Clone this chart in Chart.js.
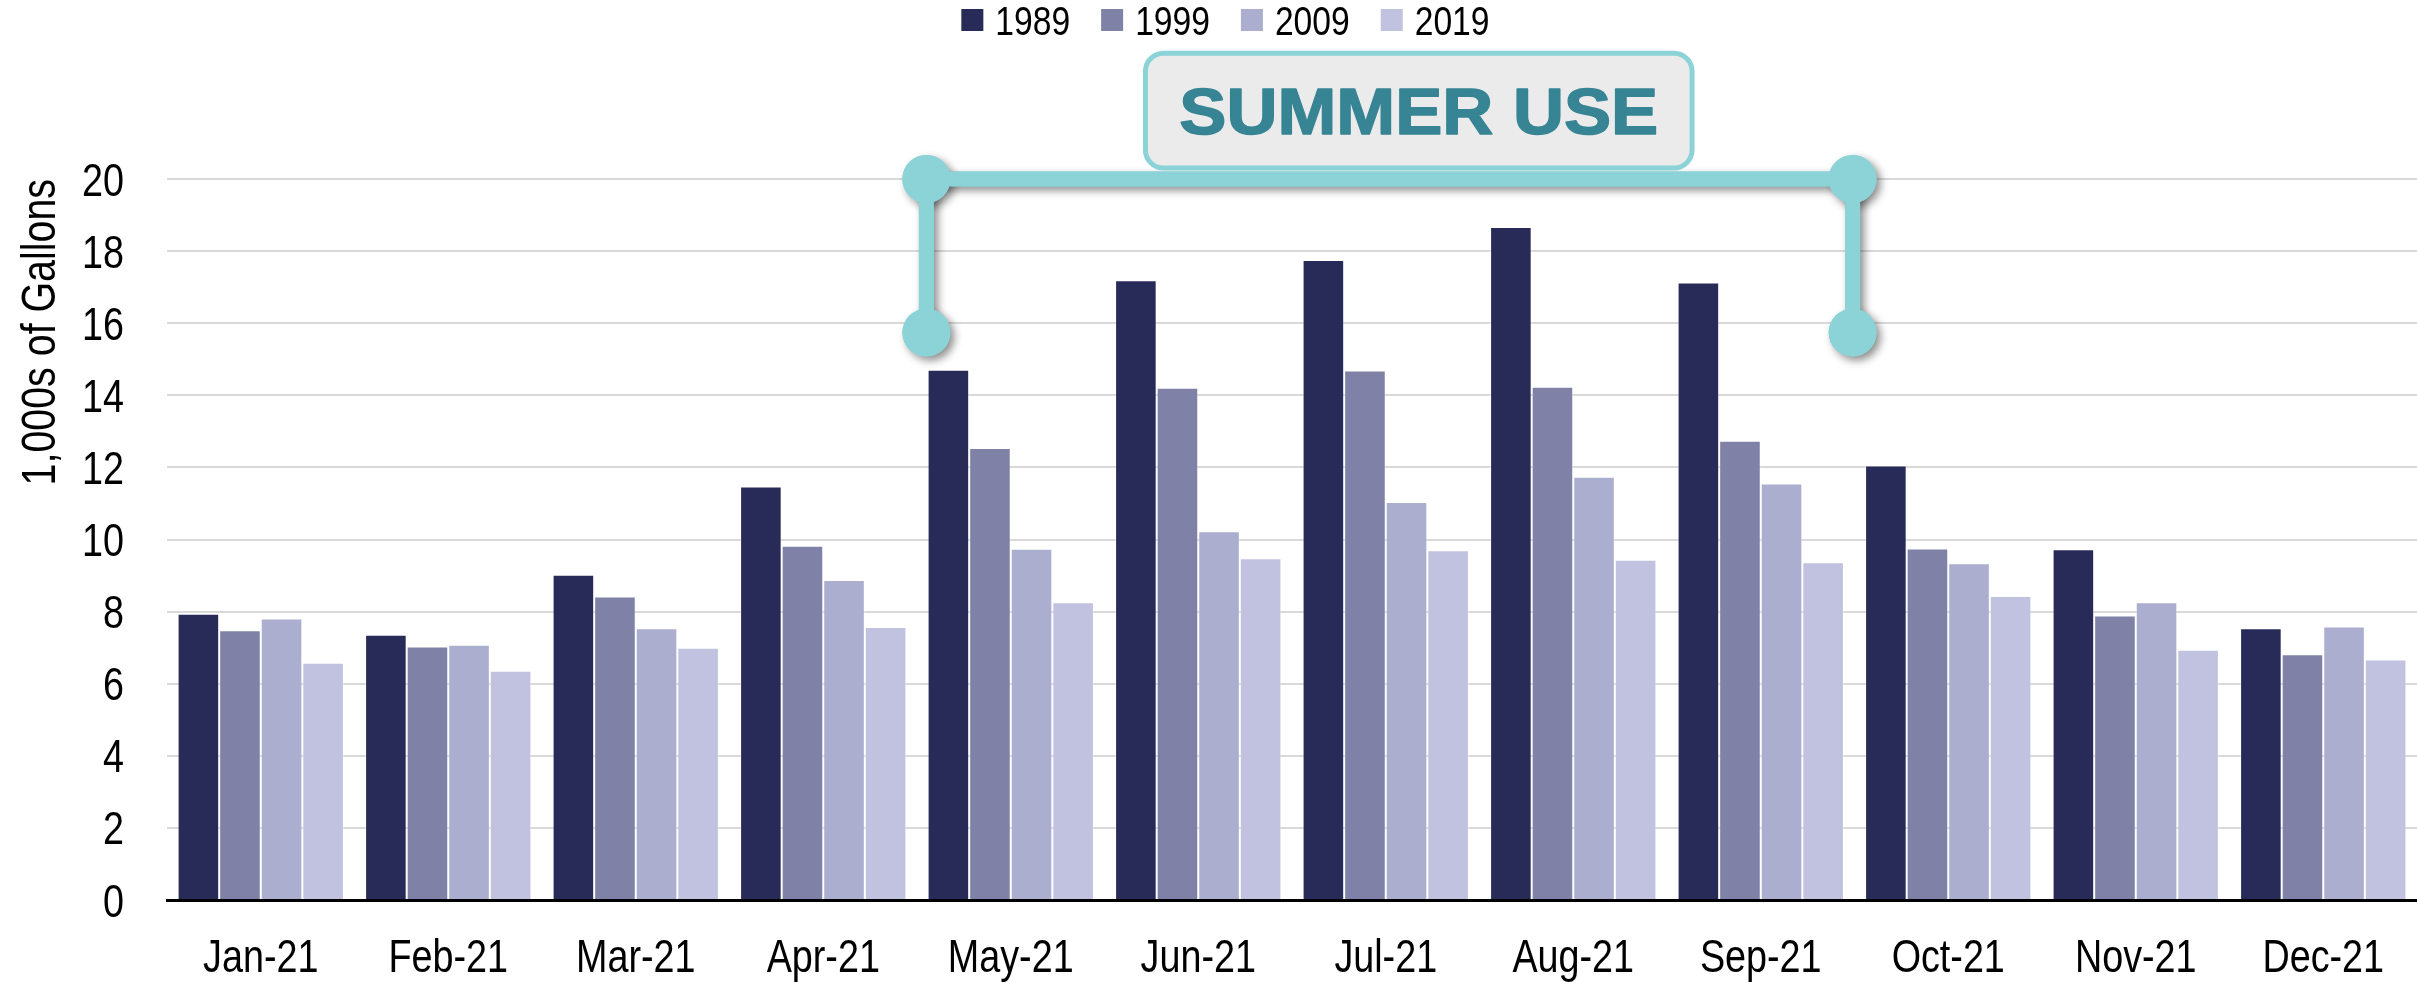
<!DOCTYPE html>
<html>
<head>
<meta charset="utf-8">
<title>Monthly Water Use</title>
<script src="https://cdn.jsdelivr.net/npm/chart.js@4.4.1/dist/chart.umd.min.js"></script>
<style>
  html, body { margin: 0; padding: 0; background: #ffffff; }
  #wrap { width: 2417px; height: 982px; }
</style>
</head>
<body>
<div id="wrap"><canvas id="chart" width="2417" height="982"></canvas></div>
<script>
// Monthly use, thousands of gallons
const categories = ['Jan-21', 'Feb-21', 'Mar-21', 'Apr-21', 'May-21', 'Jun-21',
                    'Jul-21', 'Aug-21', 'Sep-21', 'Oct-21', 'Nov-21', 'Dec-21'];
const seriesNames = ['1989', '1999', '2009', '2019'];
const use1989 = [7.94, 7.36, 9.02, 11.47, 14.71, 17.19, 17.75, 18.67, 17.13, 12.05, 9.73, 7.54];
const use1999 = [7.48, 7.03, 8.42, 9.83, 12.54, 14.21, 14.69, 14.24, 12.74, 9.75, 7.89, 6.82];
const use2009 = [7.81, 7.08, 7.54, 8.88, 9.74, 10.23, 11.04, 11.74, 11.55, 9.34, 8.26, 7.59];
const use2019 = [6.58, 6.36, 7.00, 7.57, 8.26, 9.48, 9.70, 9.44, 9.37, 8.43, 6.94, 6.67];
const yTicks = [0, 2, 4, 6, 8, 10, 12, 14, 16, 18, 20];
const axisTitle = '1,000s of Gallons';
const calloutText = 'SUMMER USE';
// summer span, in category index units, and the level of the bracket
const summerSpan = [3.55, 8.49];
const bracketTop = 20;
const bracketFoot = 15.74;

const palette = ['#282a58', '#7f82a6', '#abaecf', '#c0c2e0'];
const SANS = "'Liberation Sans', Arial, sans-serif";
const NARROW_X = 0.82;           // horizontal squeeze for the narrow-style labels
const TEAL_LIGHT = '#8cd3d7';
const TEAL_DARK = '#378494';

const seriesValues = [use1989, use1999, use2009, use2019];

// Text in a narrow style: the regular sans face squeezed horizontally
function narrowText(ctx, text, x, y, size, align, baseline) {
  ctx.save();
  ctx.font = size + 'px ' + SANS;
  ctx.translate(x, y);
  ctx.scale(NARROW_X, 1);
  ctx.textAlign = align;
  ctx.textBaseline = baseline;
  ctx.fillStyle = '#000000';
  ctx.fillText(text, 0, 0);
  ctx.restore();
}
function narrowWidth(ctx, text, size) {
  ctx.save();
  ctx.font = size + 'px ' + SANS;
  const w = ctx.measureText(text).width * NARROW_X;
  ctx.restore();
  return w;
}

// Legend row at the top
const topLegend = {
  id: 'topLegend',
  afterDraw(chart) {
    const ctx = chart.ctx;
    const size = 41, box = 22, gap = 12, spacing = 31;
    const widths = seriesNames.map(n => narrowWidth(ctx, n, size));
    const total = widths.reduce((a, w) => a + box + gap + w, 0) + spacing * (seriesNames.length - 1);
    let x = chart.width * 0.507 - total / 2;
    const cy = 20;
    seriesNames.forEach((n, i) => {
      ctx.fillStyle = palette[i];
      ctx.fillRect(x, cy - box / 2, box, box);
      narrowText(ctx, n, x + box + gap, cy + 15, size, 'left', 'alphabetic');
      x += box + gap + widths[i] + spacing;
    });
  }
};

// Axis labels and the rotated y-axis title
const axisText = {
  id: 'axisText',
  afterDraw(chart) {
    const ctx = chart.ctx;
    const xs = chart.scales.x, ys = chart.scales.y;
    const area = chart.chartArea;
    ys.ticks.forEach(t => {
      narrowText(ctx, String(t.value), area.left - 43, ys.getPixelForValue(t.value) + 16.5, 46, 'right', 'alphabetic');
    });
    categories.forEach((c, i) => {
      narrowText(ctx, c, xs.getPixelForTick(i), area.bottom + 72, 46, 'center', 'alphabetic');
    });
    ctx.save();
    ctx.translate(42, ys.getPixelForValue(15.75));
    ctx.rotate(-Math.PI / 2);
    narrowText(ctx, axisTitle, 0, 0, 48, 'center', 'middle');
    ctx.restore();
  }
};

// Bracket over the summer months plus the labelled callout box
const summerBracket = {
  id: 'summerBracket',
  afterDatasetsDraw(chart) {
    const ctx = chart.ctx;
    const xs = chart.scales.x, ys = chart.scales.y;
    const x0 = xs.getPixelForValue(summerSpan[0]);
    const x1 = xs.getPixelForValue(summerSpan[1]);
    const yTop = ys.getPixelForValue(bracketTop);
    const yFoot = ys.getPixelForValue(bracketFoot);
    const th = 15, r = 24;

    const shapes = () => {
      ctx.fillRect(x0, yTop - th / 2, x1 - x0, th);
      ctx.fillRect(x0 - th / 2, yTop, th, yFoot - yTop);
      ctx.fillRect(x1 - th / 2, yTop, th, yFoot - yTop);
      [[x0, yTop], [x1, yTop], [x0, yFoot], [x1, yFoot]].forEach(([cx, cy]) => {
        ctx.beginPath();
        ctx.arc(cx, cy, r, 0, Math.PI * 2);
        ctx.fill();
      });
    };

    ctx.save();
    ctx.fillStyle = TEAL_LIGHT;
    ctx.shadowColor = 'rgba(0,0,0,0.45)';
    ctx.shadowBlur = 9;
    ctx.shadowOffsetX = 4;
    ctx.shadowOffsetY = 4;
    shapes();
    ctx.shadowColor = 'rgba(0,0,0,0)';
    ctx.shadowBlur = 0;
    ctx.shadowOffsetX = 0;
    ctx.shadowOffsetY = 0;
    shapes();

    // callout box resting on the bracket
    const bx0 = xs.getPixelForValue(4.705);
    const bx1 = xs.getPixelForValue(7.647);
    const by0 = ys.getPixelForValue(23.56);
    const by1 = yTop - th / 2 - 1;
    const lw = 5;
    ctx.beginPath();
    ctx.roundRect(bx0 + lw / 2, by0 + lw / 2, bx1 - bx0 - lw, by1 - by0 - lw, 18);
    ctx.fillStyle = '#ebebeb';
    ctx.fill();
    ctx.lineWidth = lw;
    ctx.strokeStyle = TEAL_LIGHT;
    ctx.stroke();

    const cx = (bx0 + bx1) / 2, cy = (by0 + by1) / 2;
    ctx.font = 'bold 65px ' + SANS;
    ctx.textAlign = 'center';
    ctx.textBaseline = 'alphabetic';
    const w = ctx.measureText(calloutText).width;
    const sx = 479 / w;
    ctx.translate(cx, cy + 23.5);
    ctx.scale(sx, 1);
    ctx.fillStyle = TEAL_DARK;
    ctx.strokeStyle = TEAL_DARK;
    ctx.lineWidth = 1.5;
    ctx.lineJoin = 'round';
    ctx.fillText(calloutText, 0, 0);
    ctx.strokeText(calloutText, 0, 0);
    ctx.restore();
  }
};

new Chart(document.getElementById('chart'), {
  type: 'bar',
  data: {
    labels: categories,
    datasets: seriesValues.map((vals, i) => ({
      label: seriesNames[i],
      data: vals,
      backgroundColor: palette[i],
      borderColor: 'rgba(255,255,255,0.35)',
      borderWidth: 1,
      categoryPercentage: 0.887,
      barPercentage: 1.0
    }))
  },
  options: {
    responsive: false,
    maintainAspectRatio: false,
    devicePixelRatio: 1,
    animation: false,
    layout: { padding: { top: 179, left: 82, right: 0, bottom: 0 } },
    plugins: {
      legend: { display: false },
      tooltip: { enabled: false },
      title: { display: false }
    },
    scales: {
      x: {
        grid: { display: false, drawTicks: false },
        border: { display: true, color: '#000000', width: 3 },
        ticks: { display: false, autoSkip: false },
        afterFit(scale) { scale.height = 82; }
      },
      y: {
        min: 0,
        max: 20,
        afterBuildTicks(scale) { scale.ticks = yTicks.map(v => ({ value: v })); },
        grid: { color: '#d9d9d9', lineWidth: 2, drawTicks: false },
        border: { display: false },
        ticks: { display: false },
        afterFit(scale) { scale.width = 85; }
      }
    }
  },
  plugins: [topLegend, axisText, summerBracket]
});
</script>
</body>
</html>
